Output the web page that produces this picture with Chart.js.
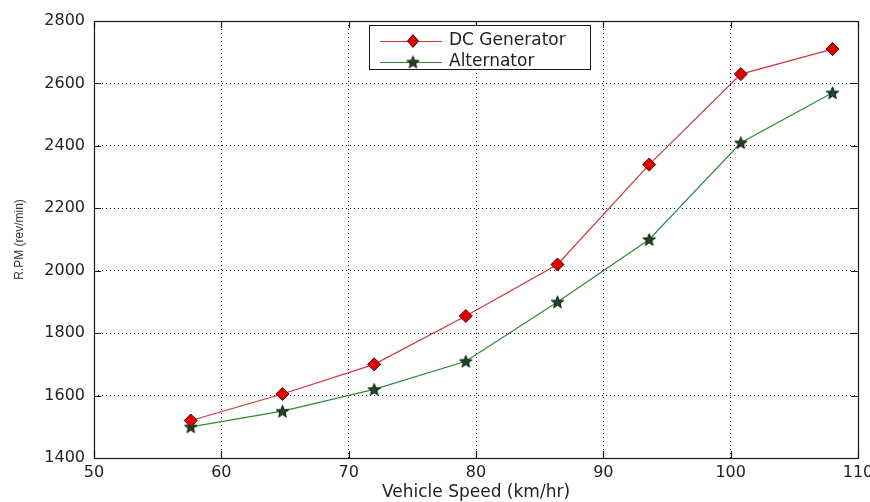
<!DOCTYPE html>
<html>
<head>
<meta charset="utf-8">
<script src="https://cdn.jsdelivr.net/npm/chart.js@4.4.1/dist/chart.umd.min.js"></script>
<style>
  html, body { margin: 0; padding: 0; background: #fff; }
  #wrap { width: 870px; height: 502px; position: relative; }
</style>
</head>
<body>
<div id="wrap"><canvas id="c" width="870" height="502"></canvas></div>
<script>
// ---- data ----
const speeds = [57.6, 64.8, 72.0, 79.2, 86.4, 93.6, 100.8, 108.0];
const dcGenerator = [1520, 1605, 1700, 1855, 2020, 2340, 2630, 2710];
const alternator = [1500, 1550, 1620, 1710, 1900, 2100, 2410, 2570];
const xTickValues = [50, 60, 70, 80, 90, 100, 110];
const yTickValues = [1400, 1600, 1800, 2000, 2200, 2400, 2600, 2800];
const seriesNames = ['DC Generator', 'Alternator'];
const xTitle = 'Vehicle Speed (km/hr)';
const yTitle = 'R.PM (rev/min)';

// star marker
function makeStar(fill, stroke, size) {
  const c = document.createElement('canvas');
  c.width = size; c.height = size;
  const g = c.getContext('2d');
  const cx = size / 2, cy = size / 2 + 0.6, R = size / 2 - 1, r = R * 0.42;
  g.beginPath();
  for (let i = 0; i < 10; i++) {
    const a = -Math.PI / 2 + i * Math.PI / 5;
    const rr = i % 2 === 0 ? R : r;
    const px = cx + rr * Math.cos(a), py = cy + rr * Math.sin(a);
    if (i === 0) g.moveTo(px, py); else g.lineTo(px, py);
  }
  g.closePath();
  g.fillStyle = fill; g.fill();
  g.lineWidth = 1; g.strokeStyle = stroke; g.stroke();
  return c;
}
const starImg = makeStar('#1f4a1f', '#0a140a', 15);

const redLine = '#c8393b';
const greenLine = '#2f8a3a';

const framePlugin = {
  id: 'frame',
  afterDraw(chart) {
    const ctx = chart.ctx;
    const a = chart.chartArea;
    const xs = chart.scales.x, ys = chart.scales.y;
    ctx.save();
    ctx.strokeStyle = '#1a1a1a';
    ctx.lineWidth = 1.2;
    ctx.strokeRect(Math.round(a.left) + 0.5, Math.round(a.top) + 0.5,
                   Math.round(a.right - a.left), Math.round(a.bottom - a.top));
    const tl = 7;
    ctx.beginPath();
    xTickValues.forEach(v => {
      const px = Math.round(xs.getPixelForValue(v)) + 0.5;
      ctx.moveTo(px, a.bottom); ctx.lineTo(px, a.bottom - tl);
      ctx.moveTo(px, a.top); ctx.lineTo(px, a.top + tl);
    });
    yTickValues.forEach(v => {
      const py = Math.round(ys.getPixelForValue(v)) + 0.5;
      ctx.moveTo(a.left, py); ctx.lineTo(a.left + tl, py);
      ctx.moveTo(a.right, py); ctx.lineTo(a.right - tl, py);
    });
    ctx.stroke();

    // legend box
    const bx = 369.5, by = 25.5, bw = 221, bh = 44;
    ctx.fillStyle = '#fff';
    ctx.fillRect(bx, by, bw, bh);
    ctx.lineWidth = 1;
    ctx.strokeStyle = '#1a1a1a';
    ctx.strokeRect(bx, by, bw, bh);
    const rows = [
      { name: seriesNames[0], color: redLine, y: 41 },
      { name: seriesNames[1], color: greenLine, y: 62 }
    ];
    rows.forEach((r, i) => {
      ctx.beginPath();
      ctx.strokeStyle = r.color;
      ctx.lineWidth = 1;
      ctx.moveTo(380, r.y + 0.5); ctx.lineTo(442, r.y + 0.5);
      ctx.stroke();
      if (i === 0) {
        ctx.beginPath();
        ctx.moveTo(413, r.y - 6.5); ctx.lineTo(418.5, r.y); ctx.lineTo(413, r.y + 6.5); ctx.lineTo(407.5, r.y);
        ctx.closePath();
        ctx.fillStyle = '#e00000'; ctx.fill();
        ctx.strokeStyle = '#5a0000'; ctx.stroke();
      } else {
        ctx.drawImage(starImg, 413 - 7.5, r.y - 7.5);
      }
      ctx.fillStyle = '#222';
      ctx.font = '17px "DejaVu Sans"';
      ctx.textBaseline = 'middle';
      ctx.textAlign = 'left';
      ctx.fillText(r.name, 449, r.y);
    });
    ctx.restore();
  }
};

new Chart(document.getElementById('c'), {
  type: 'line',
  data: {
    datasets: [
      {
        label: seriesNames[0],
        data: speeds.map((x, i) => ({ x: x, y: dcGenerator[i] })),
        borderColor: redLine,
        borderWidth: 1.2,
        pointStyle: 'rectRot',
        pointRadius: 6.5,
        pointBackgroundColor: '#e00000',
        pointBorderColor: '#5a0000',
        pointBorderWidth: 1,
        tension: 0
      },
      {
        label: seriesNames[1],
        data: speeds.map((x, i) => ({ x: x, y: alternator[i] })),
        borderColor: greenLine,
        borderWidth: 1.2,
        pointStyle: starImg,
        pointRadius: 7,
        tension: 0
      }
    ]
  },
  options: {
    responsive: false,
    animation: false,
    events: [],
    layout: { padding: { left: 0, top: 21, right: 12, bottom: 0 } },
    plugins: { legend: { display: false }, tooltip: { enabled: false } },
    scales: {
      x: {
        type: 'linear',
        min: 50, max: 110,
        afterBuildTicks: s => { s.ticks = xTickValues.map(v => ({ value: v })); },
        afterFit: s => { s.height = 44; s.paddingLeft = 0; s.paddingRight = 0; },
        ticks: {
          padding: 5,
          color: '#222',
          font: { family: 'DejaVu Sans', size: 16 },
          maxRotation: 0,
          autoSkip: false,
          callback: v => String(v)
        },
        grid: { color: '#000', lineWidth: 1, drawTicks: false },
        border: { display: false, dash: [1, 3] },
        title: {
          display: true,
          text: xTitle,
          color: '#222',
          font: { family: 'DejaVu Sans', size: 17, lineHeight: 1 },
          padding: { top: 0, bottom: 1 }
        }
      },
      y: {
        type: 'linear',
        min: 1400, max: 2800,
        afterBuildTicks: s => { s.ticks = yTickValues.map(v => ({ value: v })); },
        afterFit: s => { s.width = 94; s.paddingTop = 0; s.paddingBottom = 0; },
        ticks: {
          padding: 9,
          color: '#222',
          font: { family: 'DejaVu Sans', size: 16 },
          autoSkip: false,
          callback: v => String(v)
        },
        grid: { color: '#000', lineWidth: 1, drawTicks: false },
        border: { display: false, dash: [1, 3] },
        title: {
          display: true,
          text: yTitle,
          color: '#333',
          font: { family: 'Liberation Sans', size: 12 },
          padding: { top: 12, bottom: 0 }
        }
      }
    }
  },
  plugins: [framePlugin]
});
</script>
</body>
</html>
